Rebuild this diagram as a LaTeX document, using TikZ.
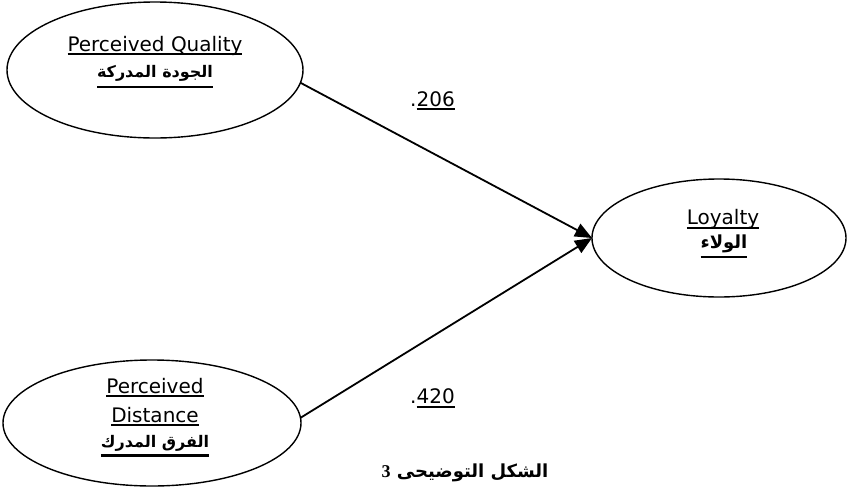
\documentclass[tikz,border=0pt]{standalone}
\usepackage{fontspec}
\setmainfont{DejaVu Sans}
\newfontfamily\arfont[Script=Arabic]{DejaVu Sans}
\newfontfamily\capnum{Liberation Serif}
\TeXXeTstate=1
\usetikzlibrary{shapes.geometric,arrows.meta}
% underline: #1 offset below baseline, #2 thickness, #3 text
\newcommand\ulbox[3]{\leavevmode\setbox0=\hbox{#3}\rlap{\vrule width\wd0 height -#1 depth \dimexpr#1+#2\relax}\box0}
\begin{document}
\begin{tikzpicture}[x=1pt,y=-1pt,line join=round]
\useasboundingbox (0,0) rectangle (847,488);
\tikzset{
  construct/.style={ellipse, draw, line width=1.4pt, inner sep=0pt, outer sep=0pt},
  entext/.style={anchor=base, inner sep=0pt, font=\fontsize{20}{24}\selectfont},
  artext/.style={anchor=base, inner sep=0pt, font=\fontsize{16}{20}\selectfont\arfont\bfseries},
  captext/.style={anchor=base, inner sep=0pt, font=\fontsize{18}{22}\selectfont\bfseries},
  effect/.style={line width=1.8pt, -{Triangle[length=17pt,width=14pt]}}
}
% constructs
\node[construct, minimum width=296pt, minimum height=136pt] (pq) at (155,70) {};
\node[construct, minimum width=298pt, minimum height=126pt] (pd) at (152,423) {};
\node[construct, minimum width=254pt, minimum height=118pt] (loy) at (719,238) {};
% texts
\node[entext] (pqen) at (155,51) {\ulbox{2pt}{2pt}{Perceived Quality}};
\node[artext] (pqar) at (155,77) {\ulbox{8.5pt}{2.5pt}{\beginR الجودة المدركة\endR}};
\node[entext] (pden1) at (155,393) {\ulbox{2pt}{2pt}{Perceived}};
\node[entext] (pden2) at (155,422) {\ulbox{2pt}{2pt}{Distance}};
\node[artext] (pdar) at (155,447) {\ulbox{7pt}{2.5pt}{\beginR الفرق المدرك\endR}};
\node[entext] (loyen) at (723,224) {\ulbox{2.5pt}{2pt}{Loyalty}};
\node[artext, font=\fontsize{18}{22}\selectfont\arfont\bfseries] (loyar) at (724,248) {\ulbox{7.5pt}{2.5pt}{\beginR الولاء\endR}};
% paths
\draw[effect] (pq.-5) -- (loy.west);
\draw[effect] (pd.2) -- (loy.west);
% coefficients
\node[entext] (c1) at (432.5,106) {.\ulbox{2pt}{2pt}{206}};
\node[entext] (c2) at (432.5,403) {.\ulbox{3pt}{2pt}{420}};
% caption
\node[captext] (cap) at (465,477) {\arfont\beginR الشكل التوضيحى {\capnum 3}\endR};
\end{tikzpicture}
\end{document}
